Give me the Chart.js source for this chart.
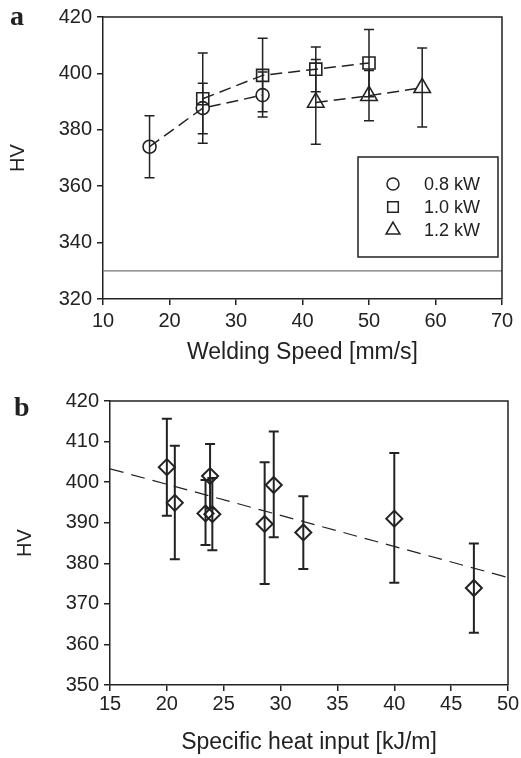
<!DOCTYPE html>
<html>
<head>
<meta charset="utf-8">
<script src="https://cdn.jsdelivr.net/npm/chart.js@4.4.1/dist/chart.umd.min.js"></script>
<style>
    html, body { margin: 0; padding: 0; background: #fff; }
    .caja { position: absolute; left: 0; width: 521px; }
    #cajaA { top: 0; height: 370px; }
    #cajaB { top: 375px; height: 383px; }
</style>
</head>
<body>
<div class="caja" id="cajaA"><canvas id="grafica_a"></canvas></div>
<div class="caja" id="cajaB"><canvas id="grafica_b"></canvas></div>
<script>
// --- panel a: HV vs welding speed ---
const speed08 = [17, 25, 34];
const hv08 = [374, 387.7, 392.3];
const lo08 = [363, 378.6, 384.5];
const hi08 = [385, 396.5, 400.5];

const speed10 = [25, 34, 42, 50];
const hv10 = [391, 399.3, 401.5, 403.7];
const lo10 = [375.2, 386.4, 393.5, 391.7];
const hi10 = [407.2, 412.5, 409.4, 415.6];

const speed12 = [42, 50, 58];
const hv12 = [389.7, 392.1, 394.9];
const lo12 = [374.9, 383.2, 381];
const hi12 = [404.9, 401, 409];

const baseX = [10, 70];
const baseHV = [330, 330];

const seriesLabels = ['0.8 kW', '1.0 kW', '1.2 kW'];

// --- panel b: HV vs specific heat input ---
const heatInput = [20, 20.7, 23.4, 23.8, 24, 28.6, 29.4, 32, 40, 47];
const hvB = [403.7, 394.9, 392.3, 401.5, 392.1, 389.7, 399.3, 387.6, 391, 373.9];
const loB = [391.7, 381, 384.5, 393.5, 383.2, 374.9, 386.4, 378.6, 375.2, 362.9];
const hiB = [415.6, 409, 400.5, 409.4, 401, 404.9, 412.5, 396.5, 407.2, 384.9];

const trendX = [15, 50];
const trendHV = [403.3, 376.5];

const negro = '#222';
const fuente = 'Liberation Sans, Arial, sans-serif';

const puntos = (xs, ys) => xs.map((v, i) => ({ x: v, y: ys[i] }));

// error bars from errLo / errHi arrays of each dataset
const barrasError = {
    id: 'barrasError',
    afterDatasetsDraw(chart) {
        const ctx = chart.ctx;
        const sx = chart.scales.x;
        const sy = chart.scales.y;
        chart.data.datasets.forEach(ds => {
            if (!ds.errLo) return;
            ctx.save();
            ctx.strokeStyle = negro;
            ctx.lineWidth = ds.errWidth || 1.5;
            ds.data.forEach((p, j) => {
                const px = sx.getPixelForValue(p.x);
                const lo = sy.getPixelForValue(ds.errLo[j]);
                const hi = sy.getPixelForValue(ds.errHi[j]);
                ctx.beginPath();
                ctx.moveTo(px, lo); ctx.lineTo(px, hi);
                ctx.moveTo(px - 5, lo); ctx.lineTo(px + 5, lo);
                ctx.moveTo(px - 5, hi); ctx.lineTo(px + 5, hi);
                ctx.stroke();
            });
            ctx.restore();
        });
    }
};

// top and right edges of the plot box + panel letter
const marco = {
    id: 'marco',
    afterDraw(chart, args, opts) {
        const { ctx, chartArea: a } = chart;
        ctx.save();
        ctx.strokeStyle = negro;
        ctx.lineWidth = 1.5;
        ctx.beginPath();
        ctx.moveTo(a.left, a.top); ctx.lineTo(a.right, a.top); ctx.lineTo(a.right, a.bottom);
        ctx.stroke();
        ctx.fillStyle = negro;
        ctx.font = 'bold 28px "Liberation Serif", "Times New Roman", serif';
        ctx.textBaseline = 'alphabetic';
        ctx.fillText(opts.letra, opts.x, opts.y);
        ctx.restore();
    }
};

// boxed legend inside the plot, lower right
const leyenda = {
    id: 'leyenda',
    afterDraw(chart) {
        const { ctx, chartArea: a } = chart;
        const x0 = a.right - 144, y0 = a.bottom - 142, w = 140, h = 100;
        ctx.save();
        ctx.strokeStyle = negro;
        ctx.lineWidth = 1.5;
        ctx.strokeRect(x0, y0, w, h);
        ctx.font = '18px ' + fuente;
        ctx.fillStyle = negro;
        ctx.textBaseline = 'middle';
        const sets = chart.data.datasets.filter(d => d.enLeyenda);
        sets.forEach((ds, i) => {
            const cy = y0 + 27 + i * 23;
            ctx.fillStyle = 'rgba(0,0,0,0)';
            ctx.strokeStyle = negro;
            Chart.helpers.drawPoint(ctx, { pointStyle: ds.pointStyle, radius: ds.legendRadius, borderWidth: 1.3, rotation: 0 }, x0 + 35, cy);
            ctx.fillStyle = negro;
            ctx.fillText(ds.label, x0 + 66, cy + 1);
        });
        ctx.restore();
    }
};

const serie = (label, xs, ys, lo, hi, estilo, radio, radioLeyenda) => ({
    label: label,
    data: puntos(xs, ys),
    errLo: lo,
    errHi: hi,
    enLeyenda: true,
    legendRadius: radioLeyenda,
    showLine: true,
    borderColor: negro,
    borderWidth: 1.5,
    borderDash: [12, 6],
    pointStyle: estilo,
    pointRadius: radio,
    pointBorderWidth: 1.6,
    pointBorderColor: negro,
    pointBackgroundColor: 'rgba(0,0,0,0)'
});

const ejes = (xmin, xmax, xpaso, ymin, ymax, ypaso, titX, anchoY, altoX, padY, padTick, padTitX) => ({
    x: {
        type: 'linear', min: xmin, max: xmax,
        afterFit: s => { s.height = altoX; },
        border: { color: negro, width: 1.5 },
        grid: { drawOnChartArea: false, drawTicks: true, tickLength: 6, color: negro, lineWidth: 1.5 },
        ticks: { stepSize: xpaso, color: negro, padding: padTick, maxRotation: 0, font: { family: fuente, size: 20 } },
        title: { display: true, text: titX, color: negro, padding: { top: 0, bottom: padTitX }, font: { family: fuente, size: 23 } }
    },
    y: {
        type: 'linear', min: ymin, max: ymax,
        afterFit: s => { s.width = anchoY; },
        border: { color: negro, width: 1.5 },
        grid: { drawOnChartArea: false, drawTicks: true, tickLength: 6, color: negro, lineWidth: 1.5 },
        ticks: { stepSize: ypaso, color: negro, padding: 5, font: { family: fuente, size: 20 } },
        title: { display: true, text: 'HV', color: negro, padding: { top: padY, bottom: 0 }, font: { family: fuente, size: 20 } }
    }
});

Chart.defaults.animation = false;

const ctxA = document.getElementById('grafica_a').getContext('2d');
new Chart(ctxA, {
    type: 'scatter',
    data: {
        datasets: [
            serie(seriesLabels[0], speed08, hv08, lo08, hi08, 'circle', 6.5, 6),
            serie(seriesLabels[1], speed10, hv10, lo10, hi10, 'rect', 8.5, 7.5),
            serie(seriesLabels[2], speed12, hv12, lo12, hi12, 'triangle', 9.5, 8),
            {
                label: 'base',
                data: puntos(baseX, baseHV),
                showLine: true,
                borderColor: '#777',
                borderWidth: 1.2,
                pointRadius: 0
            }
        ]
    },
    options: {
        responsive: true,
        maintainAspectRatio: false,
        layout: { padding: { left: 0, right: 19, top: 15, bottom: 0 } },
        scales: ejes(10, 70, 10, 320, 420, 20, 'Welding Speed [mm/s]', 103, 71, 6, 4, 4),
        plugins: {
            legend: { display: false },
            tooltip: { enabled: false },
            marco: { letra: 'a', x: 10, y: 25 }
        }
    },
    plugins: [barrasError, marco, leyenda]
});

const ctxB = document.getElementById('grafica_b').getContext('2d');
new Chart(ctxB, {
    type: 'scatter',
    data: {
        datasets: [
            {
                label: 'HV',
                data: puntos(heatInput, hvB),
                errLo: loB,
                errHi: hiB,
                errWidth: 2,
                showLine: false,
                pointStyle: 'rectRot',
                pointRadius: 8,
                pointBorderWidth: 2,
                pointBorderColor: negro,
                pointBackgroundColor: 'rgba(0,0,0,0)'
            },
            {
                label: 'trend',
                data: puntos(trendX, trendHV),
                showLine: true,
                borderColor: negro,
                borderWidth: 1.2,
                borderDash: [14, 8],
                pointRadius: 0
            }
        ]
    },
    options: {
        responsive: true,
        maintainAspectRatio: false,
        layout: { padding: { left: 0, right: 13, top: 26, bottom: 0 } },
        scales: ejes(15, 50, 5, 350, 420, 10, 'Specific heat input [kJ/m]', 110, 73, 13, 1, 2),
        plugins: {
            legend: { display: false },
            tooltip: { enabled: false },
            marco: { letra: 'b', x: 14, y: 41 }
        }
    },
    plugins: [barrasError, marco]
});
</script>
</body>
</html>
